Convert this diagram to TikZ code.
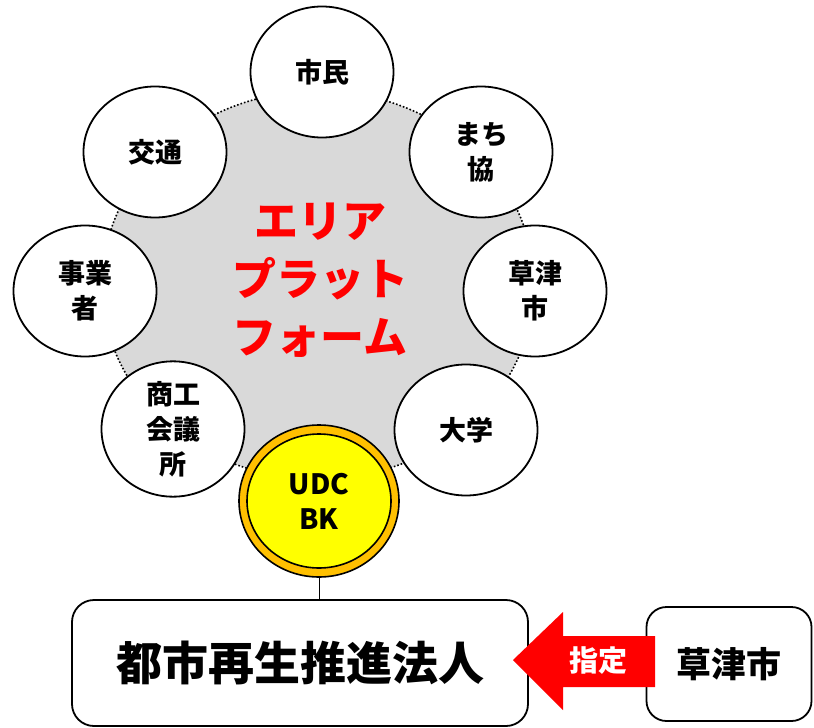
\documentclass[tikz,border=0pt]{standalone}
\usepackage{fontspec}
\setmainfont{Noto Sans CJK JP}
\usetikzlibrary{shapes.geometric}
\definecolor{pgray}{HTML}{D9D9D9}
\definecolor{udcorange}{HTML}{FFC000}
\definecolor{udcyellow}{HTML}{FFFF00}
\definecolor{pred}{HTML}{FF0000}
\begin{document}
\begin{tikzpicture}[x=1pt,y=-1pt,
  sat/.style={ellipse, draw, line width=1.8pt, fill=white, minimum width=143pt, minimum height=131pt, inner sep=0pt, align=center, font=\fontsize{27}{35}\selectfont\bfseries},
  plat/.style={ellipse, draw, dotted, line width=1.6pt, fill=pgray, minimum width=432pt, minimum height=388pt, inner sep=0pt},
  rbox/.style={draw, line width=1.8pt, fill=white, rounded corners=22pt, inner sep=0pt}
]
\useasboundingbox (0,0) rectangle (814,728);
% platform background
\node[plat] (platform) at (318,285) {};
\node[text=pred, align=center, font=\fontsize{44}{58}\selectfont\bfseries] (ptext) at (320,280) {エリア\\プラット\\フォーム};
% satellites
\node[sat] (shimin) at (322,72) {市民};
\node[sat] (machi) at (481,152) {まち\\協};
\node[sat] (kusatsu1) at (535,291) {草津\\市};
\node[sat] (daigaku) at (466,430) {大学};
\node[sat] (shoko) at (173,429) {商工\\会議\\所};
\node[sat] (jigyo) at (85,291) {事業\\者};
\node[sat] (kotsu) at (155,152) {交通};
% UDC BK
\node[ellipse, draw, line width=1.6pt, fill=udcorange, minimum width=160pt, minimum height=152pt, inner sep=0pt] (udcout) at (319,501) {};
\node[ellipse, draw, line width=1.6pt, fill=udcyellow, minimum width=144pt, minimum height=134pt, inner sep=0pt, align=center, font=\fontsize{28}{35}\selectfont\bfseries] (udc) at (319,501) {UDC\\BK};
% bottom boxes
\node[rbox, minimum width=456pt, minimum height=126pt, font=\fontsize{46}{50}\selectfont\bfseries] (hojin) at (300,663) {都市再生推進法人};
\draw[line width=1pt] (udcout.south) -- (udcout.south |- hojin.north);
\node[rbox, rounded corners=20pt, minimum width=165pt, minimum height=114pt, font=\fontsize{35}{40}\selectfont\bfseries] (kusatsu2) at (729,664) {草津市};
% arrow
\coordinate (tip) at (513,660);
\fill[pred] (tip) -- (563,612) -- (563,636) -- (655,636) -- (655,687) -- (563,687) -- (563,710) -- cycle;
\node[text=white, font=\fontsize{29}{32}\selectfont\bfseries] (shitei) at (598,661) {指定};
\end{tikzpicture}
\end{document}
